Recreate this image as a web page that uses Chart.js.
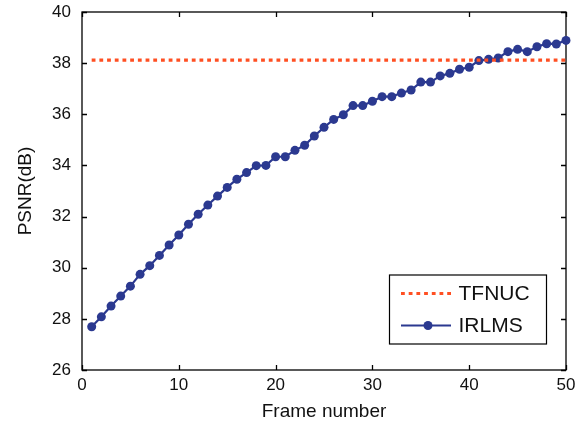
<!DOCTYPE html>
<html>
<head>
<meta charset="utf-8">
<script src="https://cdn.jsdelivr.net/npm/chart.js@4.4.1/dist/chart.umd.min.js"></script>
<style>
html,body{margin:0;padding:0;background:#fff;}
#wrap{width:584px;height:427px;}
</style>
</head>
<body>
<div id="wrap"><canvas id="c" width="584" height="427"></canvas></div>
<script>
const frames = [1,2,3,4,5,6,7,8,9,10,11,12,13,14,15,16,17,18,19,20,21,22,23,24,25,26,27,28,29,30,31,32,33,34,35,36,37,38,39,40,41,42,43,44,45,46,47,48,49,50];
const irlms = [27.69,28.08,28.50,28.89,29.28,29.74,30.08,30.48,30.89,31.28,
               31.70,32.09,32.45,32.80,33.14,33.46,33.72,33.99,34.00,34.34,
               34.34,34.59,34.79,35.15,35.49,35.80,35.98,36.34,36.34,36.51,
               36.69,36.69,36.83,36.95,37.26,37.26,37.50,37.60,37.76,37.84,
               38.10,38.15,38.20,38.45,38.54,38.45,38.64,38.76,38.75,38.89];
const tfnucFrames = [1, 50];
const tfnucValues = [38.12, 38.12];
const xTicks = [0,10,20,30,40,50];
const yTicks = [26,28,30,32,34,36,38,40];
const seriesNames = ['TFNUC','IRLMS'];
const xLabel = 'Frame number';
const yLabel = 'PSNR(dB)';

const FONT = '"Liberation Sans", Arial, sans-serif';
const RED = '#FF4F22';
const BLUE = '#2B3990';

const frameBox = {
  id: 'frameBox',
  beforeDatasetsDraw(chart) {
    const {ctx, chartArea: a, scales: {x, y}} = chart;
    ctx.save();
    ctx.strokeStyle = '#000';
    ctx.lineWidth = 1.3;
    ctx.strokeRect(a.left, a.top, a.right - a.left, a.bottom - a.top);
    const L = 5;
    ctx.beginPath();
    xTicks.forEach(v => {
      const px = Math.round(x.getPixelForValue(v)) + 0.5;
      ctx.moveTo(px, a.bottom); ctx.lineTo(px, a.bottom - L);
      ctx.moveTo(px, a.top); ctx.lineTo(px, a.top + L);
    });
    yTicks.forEach(v => {
      const py = Math.round(y.getPixelForValue(v)) + 0.5;
      ctx.moveTo(a.left, py); ctx.lineTo(a.left + L, py);
      ctx.moveTo(a.right, py); ctx.lineTo(a.right - L, py);
    });
    ctx.stroke();
    ctx.restore();
  }
};

const boxLegend = {
  id: 'boxLegend',
  afterDraw(chart) {
    const {ctx, chartArea: a} = chart;
    const w = 157, h = 69;
    const right = a.right - 19.5, bottom = a.bottom - 26;
    const left = right - w, top = bottom - h;
    ctx.save();
    ctx.fillStyle = '#fff';
    ctx.fillRect(left, top, w, h);
    ctx.strokeStyle = '#000';
    ctx.lineWidth = 1.2;
    ctx.strokeRect(left, top, w, h);
    const ds = chart.data.datasets;
    const rows = [top + 18.5, top + 50.5];
    ds.forEach((d, i) => {
      const yy = rows[i];
      ctx.save();
      ctx.strokeStyle = d.borderColor;
      ctx.lineWidth = d.borderWidth;
      ctx.setLineDash(d.borderDash || []);
      ctx.beginPath();
      ctx.moveTo(left + 11.5, yy);
      ctx.lineTo(left + 61.5, yy);
      ctx.stroke();
      ctx.restore();
      if (d.pointRadius > 0) {
        ctx.fillStyle = d.pointBackgroundColor;
        ctx.beginPath();
        ctx.arc(left + 38.5, yy, d.pointRadius, 0, Math.PI * 2);
        ctx.fill();
      }
      ctx.fillStyle = '#111';
      ctx.font = '21px ' + FONT;
      ctx.textBaseline = 'middle';
      ctx.textAlign = 'left';
      ctx.fillText(d.label, left + 69, yy + 1);
    });
    ctx.restore();
  }
};

new Chart(document.getElementById('c'), {
  type: 'line',
  data: {
    datasets: [
      {
        label: seriesNames[0],
        data: tfnucFrames.map((f, i) => ({x: f, y: tfnucValues[i]})),
        borderColor: RED,
        borderWidth: 3.2,
        borderDash: [3.8, 3.9],
        borderCapStyle: 'butt',
        pointRadius: 0,
        fill: false,
        clip: false
      },
      {
        label: seriesNames[1],
        data: frames.map((f, i) => ({x: f, y: irlms[i]})),
        borderColor: BLUE,
        backgroundColor: BLUE,
        pointBackgroundColor: BLUE,
        pointBorderColor: BLUE,
        borderWidth: 2.2,
        pointRadius: 4.5,
        pointBorderWidth: 0,
        tension: 0,
        fill: false,
        clip: false
      }
    ]
  },
  options: {
    responsive: false,
    animation: false,
    devicePixelRatio: 1,
    layout: {padding: {top: 12, right: 18, left: 0, bottom: 0}},
    plugins: {legend: {display: false}, tooltip: {enabled: false}},
    scales: {
      x: {
        type: 'linear', min: 0, max: 50,
        afterBuildTicks: s => { s.ticks = xTicks.map(v => ({value: v})); },
        afterFit: s => { s.height = 57; s.paddingLeft = 0; s.paddingRight = 0; },
        grid: {display: false, drawTicks: false},
        border: {display: false},
        ticks: {font: {size: 17, family: FONT}, color: '#111', padding: 5, maxRotation: 0},
        title: {display: true, text: xLabel, font: {size: 19, family: FONT}, color: '#111', padding: {top: 0, bottom: 4}}
      },
      y: {
        type: 'linear', min: 26, max: 40,
        afterBuildTicks: s => { s.ticks = yTicks.map(v => ({value: v})); },
        afterFit: s => { s.width = 82; s.paddingTop = 0; s.paddingBottom = 0; },
        grid: {display: false, drawTicks: false},
        border: {display: false},
        ticks: {font: {size: 17, family: FONT}, color: '#111', padding: 11},
        title: {display: true, text: yLabel, font: {size: 19, family: FONT}, color: '#111', padding: {top: 14, bottom: 0}}
      }
    }
  },
  plugins: [frameBox, boxLegend]
});
</script>
</body>
</html>
